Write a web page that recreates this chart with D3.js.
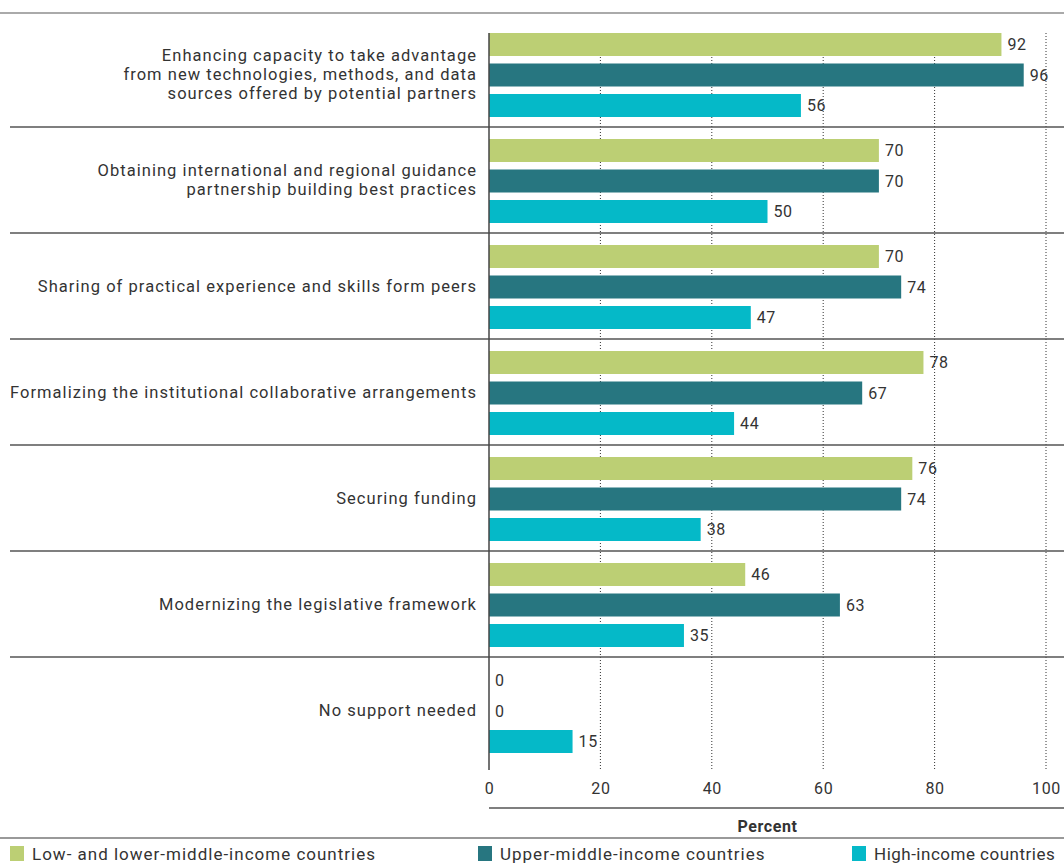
<!DOCTYPE html>
<html>
<head>
<meta charset="utf-8">
<script src="https://cdn.jsdelivr.net/npm/d3@7"></script>
<style>
  body { margin: 0; background: #fff; }
  text { font-family: Roboto, "Noto Sans", sans-serif; fill: #333; }
</style>
</head>
<body>
<div id="chart"></div>
<script>
// categories (multi-line labels split with \n)
const categories = [
  "Enhancing capacity to take advantage\nfrom new technologies, methods, and data\nsources offered by potential partners",
  "Obtaining international and regional guidance\npartnership building best practices",
  "Sharing of practical experience and skills form peers",
  "Formalizing the institutional collaborative arrangements",
  "Securing funding",
  "Modernizing the legislative framework",
  "No support needed"
];
const seriesNames = ["Low- and lower-middle-income countries", "Upper-middle-income countries", "High-income countries"];
const lowLowerMiddle = [92, 70, 70, 78, 76, 46, 0];
const upperMiddle = [96, 70, 74, 67, 74, 63, 0];
const highIncome = [56, 50, 47, 44, 38, 35, 15];
const xTicks = [0, 20, 40, 60, 80, 100];
const colors = ["#bccf74", "#277680", "#05b9c8"];

const width = 1064, height = 864;
const svg = d3.select("#chart").append("svg").attr("width", width).attr("height", height);

const values = [lowLowerMiddle, upperMiddle, highIncome];
const data = categories.map((c, i) => ({
  cat: c,
  vals: seriesNames.map((s, j) => ({ series: s, idx: j, value: values[j][i] }))
}));

const x = d3.scaleLinear().domain([0, 100]).range([489, 1046]);
const y = d3.scaleBand().domain(categories).range([21, 763]);
const ySub = d3.scaleBand().domain(d3.range(3)).range([12, 96]).paddingInner(0.246);

// top rule
svg.append("line").attr("x1", 0).attr("x2", width).attr("y1", 13).attr("y2", 13)
  .attr("stroke", "#aaa").attr("stroke-width", 2);

// dotted gridlines
svg.append("g").selectAll("line").data(xTicks.filter(d => d > 0)).enter().append("line")
  .attr("x1", d => x(d)).attr("x2", d => x(d))
  .attr("y1", 33).attr("y2", 770)
  .attr("stroke", "#333").attr("stroke-width", 1).attr("stroke-dasharray", "1,2");

// bars
const group = svg.append("g").selectAll(".grp").data(data).enter().append("g")
  .attr("class", "grp")
  .attr("transform", d => "translate(0," + y(d.cat) + ")");

group.selectAll("rect").data(d => d.vals).enter().append("rect")
  .attr("x", x(0))
  .attr("y", d => ySub(d.idx))
  .attr("width", d => x(d.value) - x(0))
  .attr("height", ySub.bandwidth())
  .attr("fill", d => colors[d.idx]);

group.selectAll(".val").data(d => d.vals).enter().append("text")
  .attr("class", "val")
  .attr("x", d => x(d.value) + 6)
  .attr("y", d => ySub(d.idx) + ySub.bandwidth() / 2)
  .attr("dy", "0.36em")
  .attr("font-size", 16)
  .style("letter-spacing", "0.6px")
  .text(d => d.value);

// category labels
group.append("text")
  .attr("text-anchor", "end")
  .attr("font-size", 16.5)
  .style("letter-spacing", "1.05px")
  .each(function(d) {
    const lines = d.cat.split("\n");
    const t = d3.select(this);
    lines.forEach((l, k) => {
      t.append("tspan").attr("x", 477)
        .attr("y", y.bandwidth() / 2 + (k - (lines.length - 1) / 2) * 19)
        .attr("dy", "0.36em")
        .text(l);
    });
  });

// group separators
svg.append("g").selectAll("line").data(categories.slice(1)).enter().append("line")
  .attr("x1", 10).attr("x2", width)
  .attr("y1", d => y(d)).attr("y2", d => y(d))
  .attr("stroke", "#555").attr("stroke-width", 1.5);

// vertical axis line
svg.append("line").attr("x1", x(0)).attr("x2", x(0)).attr("y1", 33).attr("y2", 770)
  .attr("stroke", "#444").attr("stroke-width", 1.5);

// x axis tick labels
const xAxis = d3.axisBottom(x).tickValues(xTicks).tickSize(0).tickPadding(0);
const ax = svg.append("g").attr("transform", "translate(0,783)").call(xAxis);
ax.select(".domain").remove();
ax.selectAll("text").attr("font-size", 16).attr("fill", "#333")
  .style("font-family", "Roboto, sans-serif").style("letter-spacing", "0.6px");

svg.append("line").attr("x1", x(0)).attr("x2", width).attr("y1", 808).attr("y2", 808)
  .attr("stroke", "#555").attr("stroke-width", 1.5);

svg.append("text").attr("x", (x(0) + x(100)) / 2).attr("y", 826).attr("dy", "0.36em")
  .attr("text-anchor", "middle").attr("font-size", 16).style("font-weight", "bold")
  .style("letter-spacing", "0.6px")
  .text("Percent");

// legend
svg.append("line").attr("x1", 0).attr("x2", width).attr("y1", 838).attr("y2", 838)
  .attr("stroke", "#999").attr("stroke-width", 2);

const legendX = [10, 478, 852];
const legend = svg.append("g").selectAll("g").data(seriesNames).enter().append("g")
  .attr("transform", (d, i) => "translate(" + legendX[i] + ",846)");
legend.append("rect").attr("width", 14).attr("height", 15).attr("fill", (d, i) => colors[i]);
legend.append("text").attr("x", 22).attr("y", 8).attr("dy", "0.36em")
  .attr("font-size", 17).style("letter-spacing", (d, i) => i === 2 ? "0.5px" : "1px").text(d => d);
</script>
</body>
</html>
